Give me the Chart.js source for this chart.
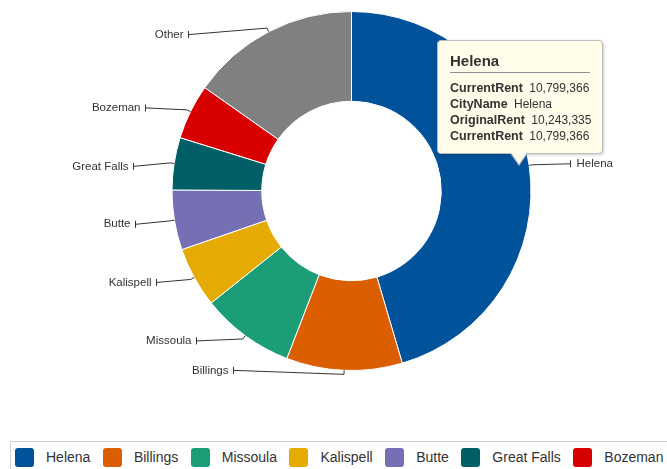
<!DOCTYPE html>
<html>
<head>
<meta charset="utf-8">
<script src="https://cdn.jsdelivr.net/npm/chart.js@4.4.1/dist/chart.umd.min.js"></script>
<style>
  html, body { margin: 0; padding: 0; background: #fff; overflow: hidden; width: 667px; height: 469px; }
  body { position: relative; font-family: 'Liberation Sans', Arial, sans-serif; color: #333; }
  #wrap { position: absolute; left: 0; top: 0; width: 667px; height: 440px; }
  #legend { position: absolute; left: 10px; top: 441px; border: 1px solid #cfcfcf; padding: 6px 0 8px 4px; white-space: nowrap; display: flex; }
  #legend .item { display: flex; align-items: center; margin-right: 12.5px; }
  #legend .box { width: 19px; height: 19px; border-radius: 3px; margin-right: 12px; }
  #legend .txt { font-size: 14px; line-height: 19px; color: #333; }
  #tip { position: absolute; width: 140px; padding: 10px 12px 9px 12px; background: #fffcea; border: 1px solid #bdbdbd; border-radius: 4px; box-shadow: 1px 1px 3px rgba(0,0,0,0.2); opacity: 0; }
  #tip .ttl { font-weight: bold; font-size: 15px; line-height: 20px; padding-bottom: 1px; border-bottom: 1px solid #8f8f8f; margin-bottom: 7px; }
  #tip .row { font-size: 12px; line-height: 16px; white-space: nowrap; }
  #tip .row b { font-size: 12.5px; margin-right: 3px; }
  #tip .cb { position: absolute; left: 72px; bottom: -13px; width: 0; height: 0; border-left: 9px solid transparent; border-right: 9px solid transparent; border-top: 13px solid #bdbdbd; }
  #tip .cf { position: absolute; left: 73px; bottom: -11px; width: 0; height: 0; border-left: 8px solid transparent; border-right: 8px solid transparent; border-top: 12px solid #fffcea; }
</style>
</head>
<body>
<div id="wrap"><canvas id="rentChart"></canvas></div>
<div id="legend"></div>
<div id="tip"><div class="ttl"></div><div class="rows"></div><div class="cb"></div><div class="cf"></div></div>
<script>
const cities = ['Helena', 'Billings', 'Missoula', 'Kalispell', 'Butte', 'Great Falls', 'Bozeman', 'Other'];
const currentRent = [10799366, 2480000, 2000000, 1290000, 1280000, 1120000, 1180000, 3620000];
const originalRent = { Helena: 10243335 };
const cityColors = ['#00529b', '#db5f00', '#1b9e77', '#e6ab02', '#7570b3', '#005f66', '#d90000', '#808080'];

const fmt = n => n.toLocaleString('en-US');

// labels outside the ring with a small leader line
const leaderLabels = {
    id: 'leaderLabels',
    afterDatasetsDraw(chart, args, opts) {
        const ctx = chart.ctx;
        const meta = chart.getDatasetMeta(0);
        ctx.save();
        ctx.font = opts.font;
        ctx.fillStyle = opts.color;
        ctx.strokeStyle = opts.color;
        ctx.lineWidth = 1;
        ctx.textBaseline = 'middle';
        meta.data.forEach((arc, i) => {
            const p = arc.getProps(['x', 'y', 'startAngle', 'endAngle', 'outerRadius'], true);
            const mid = (p.startAngle + p.endAngle) / 2;
            const cos = Math.cos(mid), sin = Math.sin(mid);
            const right = cos >= 0;
            const ax = p.x + cos * p.outerRadius, ay = p.y + sin * p.outerRadius;
            const sx = p.x + cos * (p.outerRadius + opts.stub), sy = p.y + sin * (p.outerRadius + opts.stub);
            const tx = Math.round(sx + (right ? 1 : -1) * opts.lengths[i]) + 0.5;
            const ty = sy + opts.shifts[i];
            ctx.beginPath();
            ctx.moveTo(ax, ay);
            ctx.lineTo(sx, sy);
            ctx.lineTo(tx, ty);
            ctx.moveTo(tx, ty - 3.5);
            ctx.lineTo(tx, ty + 3.5);
            ctx.stroke();
            ctx.textAlign = right ? 'left' : 'right';
            ctx.fillText(chart.data.labels[i], tx + (right ? 6 : -5), ty);
        });
        ctx.restore();
    }
};

function externalTip(context) {
    const tooltip = context.tooltip;
    const el = document.getElementById('tip');
    if (!tooltip.dataPoints || !tooltip.dataPoints.length) {
        el.style.opacity = 0;
        return;
    }
    const dp = tooltip.dataPoints[0];
    const i = dp.dataIndex;
    const name = cities[i];
    el.querySelector('.ttl').textContent = name;
    const rows = [
        ['CurrentRent', fmt(currentRent[i])],
        ['CityName', name],
        ['OriginalRent', originalRent[name] != null ? fmt(originalRent[name]) : ''],
        ['CurrentRent', fmt(currentRent[i])]
    ];
    el.querySelector('.rows').innerHTML = rows.map(r => '<div class="row"><b>' + r[0] + '</b> ' + r[1] + '</div>').join('');
    // tip points to the segment near its outer edge
    const a = dp.element.getProps(['x', 'y', 'startAngle', 'endAngle', 'outerRadius'], true);
    const mid = (a.startAngle + a.endAngle) / 2;
    const px = a.x + Math.cos(mid) * (a.outerRadius - 10);
    const py = a.y + Math.sin(mid) * (a.outerRadius - 10);
    el.style.opacity = 1;
    el.style.left = Math.round(px - 82) + 'px';
    el.style.top = Math.round(py - 13 - el.offsetHeight) + 'px';
}

const rentChart = new Chart(document.getElementById('rentChart'), {
    type: 'doughnut',
    data: {
        labels: cities,
        datasets: [{
            data: currentRent,
            backgroundColor: cityColors,
            hoverBackgroundColor: cityColors,
            borderColor: '#ffffff',
            hoverBorderColor: '#ffffff',
            borderWidth: 1,
            hoverOffset: 0
        }]
    },
    options: {
        responsive: true,
        maintainAspectRatio: false,
        animation: false,
        cutout: '50%',
        layout: {
            padding: { left: 171, right: 135, top: 11, bottom: 69 }
        },
        events: [],
        plugins: {
            legend: { display: false },
            tooltip: { enabled: false, external: externalTip },
            leaderLabels: {
                font: "11.5px 'Liberation Sans', Arial, sans-serif",
                color: '#333333',
                stub: 4,
                lengths: [37, 111, 47, 35, 35, 37, 42, 79],
                shifts: [-1, -4, 2, 3, 3.5, 3.5, -2, 6.5]
            }
        }
    },
    plugins: [leaderLabels]
});

// html legend built from the chart's own labels
const legendBox = document.getElementById('legend');
rentChart.options.plugins.legend.labels.generateLabels(rentChart).forEach(item => {
    const div = document.createElement('div');
    div.className = 'item';
    div.innerHTML = '<span class="box" style="background:' + item.fillStyle + '"></span><span class="txt">' + item.text + '</span>';
    legendBox.appendChild(div);
});

rentChart.tooltip.setActiveElements([{ datasetIndex: 0, index: 0 }], { x: 0, y: 0 });
rentChart.draw();
</script>
</body>
</html>
